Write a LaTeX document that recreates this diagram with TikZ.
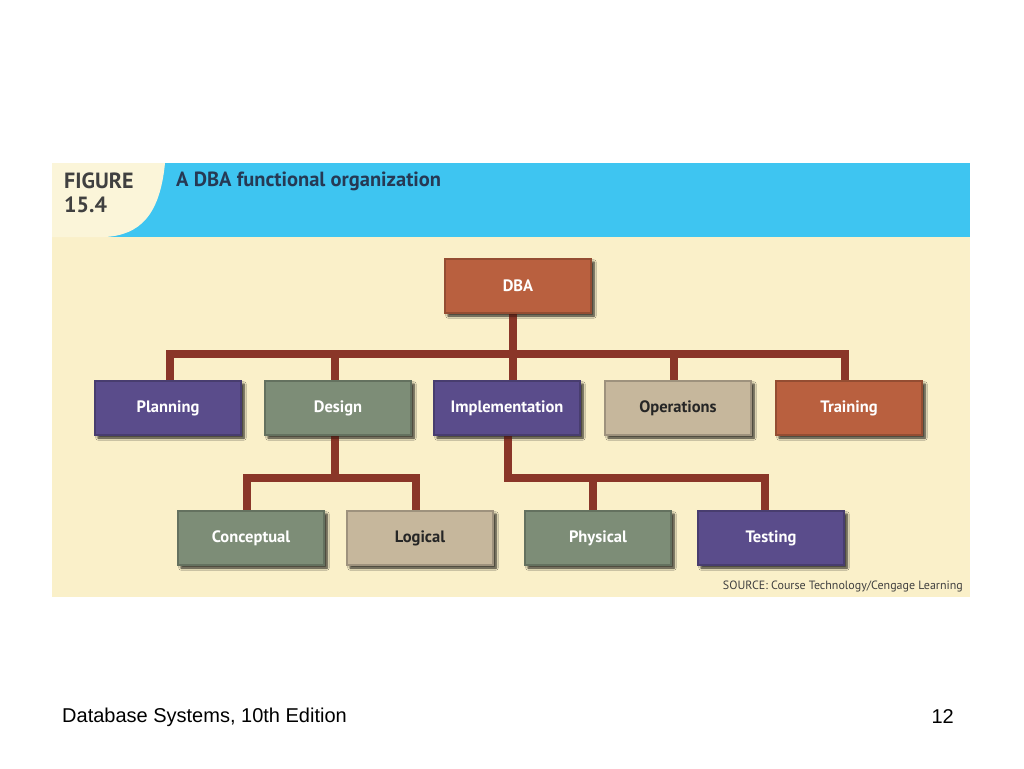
\documentclass[tikz,border=0pt]{standalone}
\usepackage{fontspec}
\setmainfont{Liberation Sans}
\newfontfamily\figfont{PT Sans}
\usetikzlibrary{shadows.blur}
\definecolor{rust}{HTML}{B9603F}
\definecolor{purp}{HTML}{5A4C8B}
\definecolor{sage}{HTML}{7D8D77}
\definecolor{beig}{HTML}{C6B79C}
\definecolor{conncol}{HTML}{8A3628}
\definecolor{creambg}{HTML}{FAF0C9}
\definecolor{hdrblue}{HTML}{3EC5F1}
\definecolor{titlecol}{HTML}{263954}
\begin{document}
\begin{tikzpicture}[x=1pt,y=-1pt,
  orgbox/.style={rectangle, minimum width=146pt, minimum height=54pt, inner sep=0pt,
    font=\figfont\bfseries\fontsize{16.5}{18}\selectfont, text=white,
    blur shadow={shadow xshift=3pt, shadow yshift=-3pt, shadow blur steps=6, shadow opacity=50},
    line width=1.2pt},
  rustbox/.style={orgbox, fill=rust, draw=rust!80!black},
  purpbox/.style={orgbox, fill=purp, draw=purp!80!black},
  sagebox/.style={orgbox, fill=sage, draw=sage!80!black},
  beigbox/.style={orgbox, fill=beig, draw=beig!80!black, text=black!85},
  conn/.style={draw=conncol, line width=8pt, line cap=butt, line join=miter}
]
\useasboundingbox (0,0) rectangle (1024,768);
\fill[white] (0,0) rectangle (1024,768);
% figure panel
\fill[creambg] (52,163) rectangle (970,597);
\fill[hdrblue] (52,163) rectangle (970,237);
\fill[creambg!70!white] (52,163) -- (165,163) .. controls (160,215) and (140,235) .. (105,237) -- (52,237) -- cycle;
\node[anchor=west, font=\figfont\bfseries\fontsize{22}{22}\selectfont, text=black!75, inner sep=0pt] (figlbl) at (64,181) {FIGURE};
\node[anchor=west, font=\figfont\bfseries\fontsize{22}{22}\selectfont, text=black!75, inner sep=0pt] (fignum) at (64,205) {15.4};
\node[anchor=west, font=\figfont\bfseries\fontsize{20.5}{22}\selectfont, text=titlecol, inner sep=0pt] (title) at (176,181) {A DBA functional organization};

% nodes
\node[rustbox] (dba) at (518,286) {DBA};
\node[purpbox] (plan) at (168,408) {Planning};
\node[sagebox] (des) at (338,408) {Design};
\node[purpbox] (impl) at (507,408) {Implementation};
\node[beigbox] (ops) at (678,408) {Operations};
\node[rustbox] (trn) at (849,408) {Training};
\node[sagebox] (con) at (251,538) {Conceptual};
\node[beigbox] (log) at (420,538) {Logical};
\node[sagebox] (phy) at (598,538) {Physical};
\node[purpbox] (tst) at (771,538) {Testing};

\coordinate (bus1) at (513,354);
\coordinate (bus2) at (335,478);
\coordinate (bus3) at (508,478);

\draw[conn] ([xshift=-5pt]dba.south) -- (bus1);
\draw[conn] (bus1) -- ([xshift=2pt]plan.north |- bus1) -- ([xshift=2pt]plan.north);
\draw[conn] (bus1) -- ([xshift=-4pt]trn.north |- bus1) -- ([xshift=-4pt]trn.north);
\draw[conn] (bus1) -- (bus1 |- impl.north);
\draw[conn] ([xshift=-3pt]des.north |- bus1) -- ([xshift=-3pt]des.north);
\draw[conn] ([xshift=-4pt]ops.north |- bus1) -- ([xshift=-4pt]ops.north);
\draw[conn] ([xshift=-3pt]des.south) -- (bus2);
\draw[conn] (bus2) -- ([xshift=-4pt]con.north |- bus2) -- ([xshift=-4pt]con.north);
\draw[conn] (bus2) -- ([xshift=-4pt]log.north |- bus2) -- ([xshift=-4pt]log.north);
\draw[conn] ([xshift=1pt]impl.south) -- (bus3) -- ([xshift=-6pt]tst.north |- bus3) -- ([xshift=-6pt]tst.north);
\draw[conn] ([xshift=-5pt]phy.north |- bus3) -- ([xshift=-5pt]phy.north);

% redraw boxes on top of connectors
\node[rustbox] at (dba) {DBA};
\node[purpbox] at (plan) {Planning};
\node[sagebox] at (des) {Design};
\node[purpbox] at (impl) {Implementation};
\node[beigbox] at (ops) {Operations};
\node[rustbox] at (trn) {Training};
\node[sagebox] at (con) {Conceptual};
\node[beigbox] at (log) {Logical};
\node[sagebox] at (phy) {Physical};
\node[purpbox] at (tst) {Testing};

\node[anchor=east, font=\figfont\fontsize{12}{13}\selectfont, text=black!75, inner sep=0pt] (src) at (963,586) {SOURCE: Course Technology/Cengage Learning};

\node[anchor=west, font=\fontsize{20}{22}\selectfont, inner sep=0pt] (foot) at (62,717) {Database Systems, 10th Edition};
\node[anchor=east, font=\fontsize{20}{22}\selectfont, inner sep=0pt] (pg) at (954,717) {12};
\end{tikzpicture}
\end{document}
